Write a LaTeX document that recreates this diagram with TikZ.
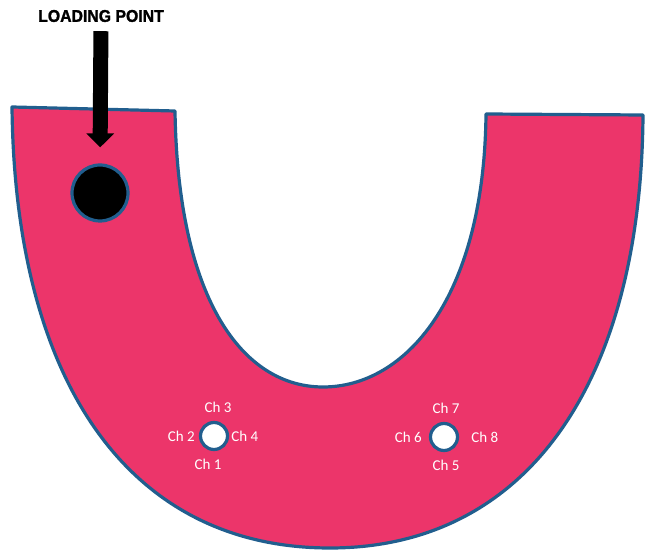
\documentclass[tikz,border=0pt]{standalone}
\usepackage{fontspec}
\setmainfont{Liberation Sans}
\newfontfamily\chfont{Carlito}
\newfontfamily\heavyfont[FakeBold=1.6]{Liberation Sans Bold}
\usetikzlibrary{arrows.meta,positioning}
\definecolor{pink}{RGB}{236,53,106}
\definecolor{edgeblue}{RGB}{33,94,142}
\tikzset{
  plate/.style={draw=edgeblue, fill=pink, line width=3.2pt, line join=round},
  loadhole/.style={circle, draw=edgeblue, fill=black, line width=3.2pt,
    minimum size=56pt, inner sep=0pt},
  chhole/.style={circle, draw=edgeblue, fill=white, line width=3.2pt,
    minimum size=27pt, inner sep=0pt},
  chlabel/.style={font=\chfont\fontsize{15}{15}\selectfont, text=white, inner sep=0pt},
  title/.style={font=\heavyfont\fontsize{17}{17}\selectfont, text=black, inner sep=0pt},
  fatarrow/.style={-{Triangle[length=14pt 0 0, width=27pt 0 0]}, line width=15pt, draw=black}
}

\begin{document}
\begin{tikzpicture}[x=1pt,y=1pt]
  \useasboundingbox (0,0) rectangle (648,554);

  % U-shaped plate
  \draw[plate] (12,447) -- (175,443)
    .. controls (178,250) and (245,167) .. (323,167)
    .. controls (405,167) and (484,255) .. (486,440)
    -- (643,439)
    .. controls (641,170) and (526,6) .. (330,6)
    .. controls (130,6) and (15,170) .. cycle;

  \node[loadhole] (loadpt) at (100,361) {};
  \node[title, xscale=0.93] (loadtitle) at (101,538) {LOADING POINT};
  \draw[fatarrow, shorten <=9pt, shorten >=16pt] (loadtitle.south) -- (loadpt.north);

  % left channel hole
  \node[chhole] (holeA) at (214,118) {};
  \node[chlabel, above=8pt of holeA, xshift=4pt] (ch3) {Ch 3};
  \node[chlabel, left=4pt of holeA] (ch2) {Ch 2};
  \node[chlabel, right=2pt of holeA] (ch4) {Ch 4};
  \node[chlabel, below=8pt of holeA, xshift=-6pt] (ch1) {Ch 1};

  % right channel hole
  \node[chhole] (holeB) at (444,117) {};
  \node[chlabel, above=8pt of holeB, xshift=2pt] (ch7) {Ch 7};
  \node[chlabel, left=7pt of holeB] (ch6) {Ch 6};
  \node[chlabel, right=12pt of holeB] (ch8) {Ch 8};
  \node[chlabel, below=8pt of holeB, xshift=2pt] (ch5) {Ch 5};
\end{tikzpicture}
\end{document}
